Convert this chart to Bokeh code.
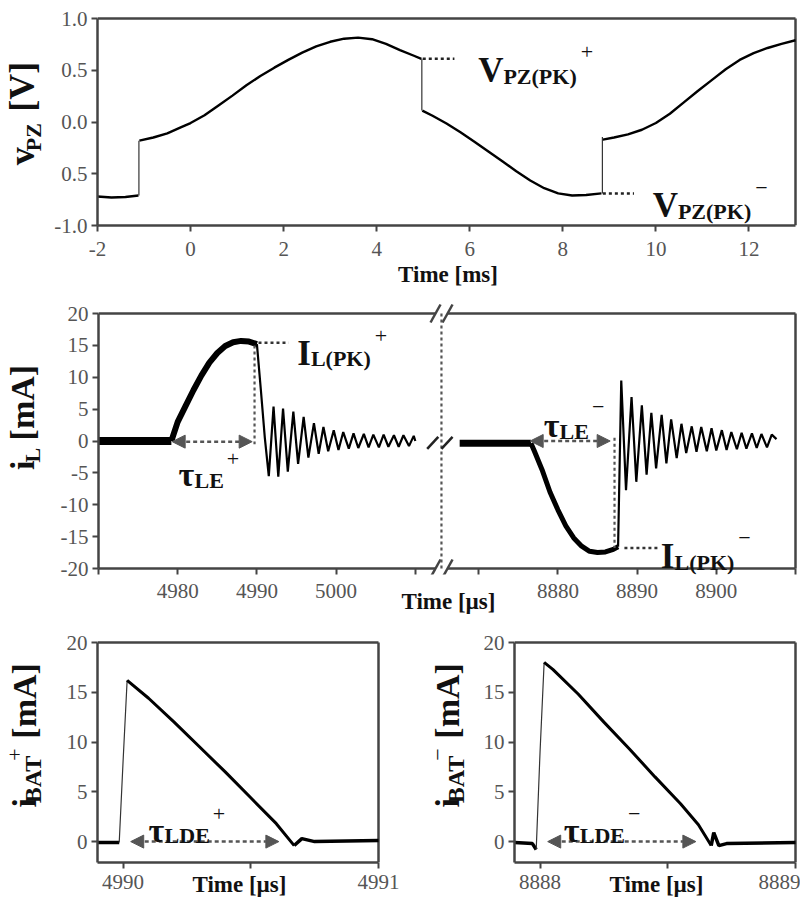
import math
from bokeh.plotting import figure
from bokeh.models import Range1d, FixedTicker, Label, Arrow, NormalHead
from bokeh.layouts import column, row
from bokeh.embed import file_html
from bokeh.resources import INLINE

FONT = "Liberation Serif"
FRAME = "#444444"
TICK_TXT = "#555555"
INK = "#111111"

# ---------------- data ----------------
# Panel 1: piezo voltage v_PZ [V] vs time [ms]
vpz_a_t = [-2.0, -1.7, -1.4, -1.12]
vpz_a_v = [-0.72, -0.73, -0.725, -0.71]
vpz_b_t = [-1.10, -0.8, -0.5, -0.2, 0.0, 0.3, 0.6, 0.9, 1.2, 1.5, 1.8, 2.1, 2.4, 2.7, 3.0, 3.3, 3.6, 3.9, 4.2, 4.5, 4.8, 4.96]
vpz_b_v = [-0.18, -0.15, -0.11, -0.05, -0.01, 0.065, 0.16, 0.255, 0.355, 0.445, 0.525, 0.60, 0.67, 0.73, 0.775, 0.805, 0.815, 0.80, 0.755, 0.695, 0.64, 0.61]
vpz_c_t = [4.98, 5.2, 5.5, 5.8, 6.1, 6.4, 6.7, 7.0, 7.3, 7.6, 7.9, 8.2, 8.5, 8.83]
vpz_c_v = [0.11, 0.06, -0.015, -0.10, -0.19, -0.285, -0.38, -0.475, -0.565, -0.64, -0.69, -0.71, -0.705, -0.69]
vpz_d_t = [8.86, 9.1, 9.4, 9.7, 10.0, 10.3, 10.6, 10.9, 11.2, 11.5, 11.8, 12.1, 12.4, 12.7, 13.0]
vpz_d_v = [-0.17, -0.15, -0.12, -0.075, -0.01, 0.08, 0.19, 0.30, 0.405, 0.51, 0.60, 0.665, 0.715, 0.755, 0.79]
vpz_jump_t = [-1.11, 4.97, 8.85]
vpz_jump_from = [-0.71, 0.61, -0.69]
vpz_jump_to = [-0.18, 0.11, -0.145]
vpz_xticks = [-2, 0, 2, 4, 6, 8, 10, 12]
vpz_yticks = [-1.0, -0.5, 0.0, 0.5, 1.0]
vpz_ylabels = ["-1.0", "0.5", "0.0", "0.5", "1.0"]

# Panel 2: inductor current i_L [mA] vs time [us], two time windows
il_a_base_t = [4970.0, 4979.2]
il_a_base_v = [0.0, 0.0]
il_a_rise_t = [4979.2, 4980, 4981, 4982, 4983, 4984, 4985, 4986, 4987, 4988, 4989, 4990.0]
il_a_rise_v = [0.0, 3.0, 5.5, 8.0, 10.3, 12.3, 13.8, 14.9, 15.5, 15.7, 15.6, 15.2]
il_a_ring_t = [4990.0, 4990.5, 4991.0, 4991.5, 4992.1, 4992.7, 4993.3, 4993.9, 4994.6, 4995.2,
               4995.9, 4996.5, 4997.2, 4997.8, 4998.4, 4999.0, 4999.7, 5000.3, 5000.9, 5001.6,
               5002.2, 5002.8, 5003.5, 5004.1, 5004.7, 5005.4, 5006.0, 5006.6, 5007.3, 5007.9,
               5008.5, 5009.2, 5009.8, 5010.0]
il_a_ring_v = [15.2, 8.0, 0.5, -5.5, 5.4, -5.6, 5.1, -4.8, 4.6, -3.6,
               3.8, -2.6, 2.8, -2.0, 2.2, -1.6, 1.7, -1.4, 1.4, -1.2,
               1.2, -1.1, 1.1, -1.0, 1.0, -1.0, 1.0, -0.9, 0.9, -0.9,
               0.9, -0.8, 0.8, 0.0]
il_b_base_t = [8867.6, 8876.6]
il_b_base_v = [-0.35, -0.35]
il_b_fall_t = [8876.6, 8877, 8878, 8879, 8880, 8881, 8882, 8883, 8884, 8885, 8886, 8887, 8887.6]
il_b_fall_v = [-0.35, -1.5, -4.5, -8.0, -10.8, -13.3, -15.2, -16.5, -17.3, -17.5, -17.4, -17.0, -16.6]
il_b_ring_t = [8887.6, 8888.0, 8888.6, 8889.3, 8889.9, 8890.6, 8891.2, 8891.8, 8892.4, 8893.1,
               8893.7, 8894.3, 8895.0, 8895.6, 8896.2, 8896.9, 8897.5, 8898.1, 8898.8, 8899.4,
               8900.0, 8900.7, 8901.3, 8901.9, 8902.6, 8903.2, 8903.8, 8904.5, 8905.1, 8905.7,
               8906.4, 8907.0, 8907.6]
il_b_ring_v = [-16.6, 9.5, -7.7, 6.9, -6.4, 5.6, -5.3, 4.4, -4.3, 4.1,
               -3.5, 3.4, -2.7, 2.7, -1.9, 2.3, -1.7, 2.2, -1.6, 2.0,
               -1.5, 1.7, -1.4, 1.4, -1.3, 1.3, -1.2, 1.2, -1.1, 1.1,
               -1.0, 1.0, 0.3]
il_left_ticks = [4970, 4980, 4990, 5000, 5010]
il_left_labels = ["", "4980", "4990", "5000", ""]
il_right_ticks = [8870, 8880, 8890, 8900, 8910]
il_right_labels = ["", "8880", "8890", "8900", ""]
il_yticks = [-20, -15, -10, -5, 0, 5, 10, 15, 20]
il_ylabels = ["-20", "-15", "-10", "-5", "0", "5", "10", "15", "20"]

# Panel 3: battery current i_BAT+ [mA]
ibp_base1_t = [4989.90, 4989.985]
ibp_base1_v = [-0.1, -0.1]
ibp_rise_t = [4989.985, 4990.0, 4990.016]
ibp_rise_v = [-0.1, 8.0, 16.2]
ibp_fall_t = [4990.016, 4990.10, 4990.20, 4990.30, 4990.40, 4990.50, 4990.60, 4990.67]
ibp_fall_v = [16.2, 14.4, 12.0, 9.5, 7.0, 4.4, 1.8, -0.4]
ibp_base2_t = [4990.67, 4990.70, 4990.75, 4991.0]
ibp_base2_v = [-0.4, 0.3, 0.0, 0.1]
# Panel 4: battery current i_BAT- [mA]
ibm_base1_t = [8887.90, 8887.97, 8887.985]
ibm_base1_v = [-0.1, -0.2, -0.8]
ibm_rise_t = [8887.985, 8888.0, 8888.016]
ibm_rise_v = [-0.8, 9.0, 18.0]
ibm_fall_t = [8888.016, 8888.05, 8888.15, 8888.25, 8888.35, 8888.45, 8888.55, 8888.62, 8888.67]
ibm_fall_v = [18.0, 17.3, 14.8, 12.0, 9.3, 6.5, 3.8, 1.7, -0.4]
ibm_base2_t = [8888.67, 8888.68, 8888.70, 8888.73, 8889.0]
ibm_base2_v = [-0.4, 0.9, -0.4, -0.2, -0.1]
ib_yticks = [0, 5, 10, 15, 20]
ib_ylabels = ["0", "5", "10", "15", "20"]

OFF = 3852.0  # compression of the broken middle time axis

# ---------------- helpers ----------------
WB = {' ': .25, '(': .333, ')': .333, '[': .333, ']': .333, '+': .570, '−': .570,
      'A': .722, 'B': .667, 'D': .722, 'E': .667, 'I': .389, 'K': .778, 'L': .667,
      'P': .611, 'T': .667, 'V': .722, 'Z': .667, 'i': .278, 'm': .833, 'v': .5,
      's': .389, 'τ': .47}
WR = {'+': .564, '−': .564}
MID = 0.3375  # (ascent - descent) / 2 of Liberation Serif, in em


def tw(txt, size, bold):
    tab = WB if bold else {**WB, **WR}
    return sum(tab.get(c, 0.5) for c in txt) * size


def rich_len(pieces):
    return sum(tw(pc[0], pc[1], pc[3]) + (pc[4] if len(pc) > 4 else 0) for pc in pieces)


def mk_label(x, y, txt, size, bold, color=INK, **kw):
    return Label(x=x, y=y, text=txt, text_font=FONT, text_font_size=f"{size}px",
                 text_font_style="bold" if bold else "normal", text_color=color, **kw)


def rich(p, x, y, pieces, color=INK):
    adv = 0.0
    for pc in pieces:
        txt, size, shift, bold = pc[:4]
        adv += pc[4] if len(pc) > 4 else 0.0
        p.add_layout(mk_label(x, y, txt, size, bold, color, text_align="left",
                              text_baseline="alphabetic", x_offset=adv, y_offset=shift))
        adv += tw(txt, size, bold)


def rich_rot(p, xb, yc, pieces, color=INK):
    """vertical text reading upwards; xb = baseline x, yc = centre along text (local px)"""
    adv = yc - rich_len(pieces) / 2
    for pc in pieces:
        txt, size, shift, bold = pc[:4]
        adv += pc[4] if len(pc) > 4 else 0.0
        w = tw(txt, size, bold)
        xm = xb - shift - MID * size
        p.add_layout(mk_label(xm, adv + w / 2, txt, size, bold, color, text_align="center",
                              text_baseline="middle", angle=math.pi / 2))
        adv += w


def darrow(p, x0, x1, y):
    p.add_layout(Arrow(start=NormalHead(size=13, fill_color="#555555", line_color="#555555", line_width=1),
                       end=NormalHead(size=13, fill_color="#555555", line_color="#555555", line_width=1),
                       x_start=x0, y_start=y, x_end=x1, y_end=y,
                       line_color="#555555", line_width=2.5, line_dash="4 3"))


def padded(v0, v1, px, lo, hi):
    s = px / (v1 - v0)
    return (v0 - lo / s, v1 + hi / s)


def make_fig(w, h, xr, yr, bl, br, bt, bb):
    p = figure(width=w, height=h, x_range=Range1d(*xr), y_range=Range1d(*yr),
               output_backend="svg", toolbar_location=None,
               min_border_left=bl, min_border_right=br, min_border_top=bt, min_border_bottom=bb)
    p.xgrid.visible = False
    p.ygrid.visible = False
    p.outline_line_color = None
    p.background_fill_color = "white"
    p.border_fill_color = "white"
    for ax in p.axis:
        ax.axis_line_color = FRAME
        ax.axis_line_width = 2.5
        ax.major_tick_line_color = FRAME
        ax.major_tick_line_width = 2
        ax.major_tick_in = 0
        ax.major_tick_out = 6
        ax.minor_tick_line_color = None
        ax.major_label_text_font = FONT
        ax.major_label_text_font_size = "21px"
        ax.major_label_text_color = TICK_TXT
    p.yaxis.major_label_standoff = 4
    return p


def title_fig(w, h):
    p = figure(width=w, height=h, x_range=Range1d(0, w), y_range=Range1d(0, h),
               output_backend="svg", toolbar_location=None,
               x_axis_location=None, y_axis_location=None,
               min_border_left=0, min_border_right=0, min_border_top=0, min_border_bottom=0)
    p.grid.visible = False
    p.outline_line_color = None
    p.background_fill_color = "white"
    p.border_fill_color = "white"
    return p


def set_ticks(ax, ticks, labels):
    ax.ticker = FixedTicker(ticks=ticks)
    ax.major_label_overrides = {t: l for t, l in zip(ticks, labels)}


def xtitle(p, text, standoff):
    p.xaxis.axis_label = text
    p.xaxis.axis_label_text_font = FONT
    p.xaxis.axis_label_text_font_style = "bold"
    p.xaxis.axis_label_text_font_size = "23px"
    p.xaxis.axis_label_text_color = INK
    p.xaxis.axis_label_standoff = standoff


def frame_line(p, xs, ys):
    p.line(xs, ys, line_color=FRAME, line_width=2.5)


# ---------------- panel 1 ----------------
X1 = padded(-2, 13, 698, 0, 3)
Y1 = padded(-1, 1, 207, 0, 3)
p1 = make_fig(752, 296, X1, Y1, 49, 2, 15, 71)
set_ticks(p1.xaxis[0], vpz_xticks, [str(v) for v in vpz_xticks])
set_ticks(p1.yaxis[0], vpz_yticks, vpz_ylabels)
p1.xaxis.bounds = (-2, 13)
p1.yaxis.bounds = (-1, 1)
p1.xaxis.major_label_standoff = 10
frame_line(p1, [-2, 13], [1, 1])
frame_line(p1, [13, 13], [-1, 1])
for tt, vv in [(vpz_a_t, vpz_a_v), (vpz_b_t, vpz_b_v), (vpz_c_t, vpz_c_v), (vpz_d_t, vpz_d_v)]:
    p1.line(tt, vv, line_color="black", line_width=2.4)
p1.segment(x0=vpz_jump_t, y0=vpz_jump_from, x1=vpz_jump_t, y1=vpz_jump_to,
           line_color="#333333", line_width=1.2)
p1.line([4.99, 5.67], [0.61, 0.61], line_color="#222222", line_width=2.5, line_dash="3 3")
p1.line([8.86, 9.53], [-0.69, -0.69], line_color="#222222", line_width=2.5, line_dash="3 3")
xtitle(p1, "Time [ms]", 3)
rich(p1, 6.18, 0.498, [("V", 35, 0, True), ("PZ(PK)", 22, -6, True), ("+", 22, 18, False, 4)])
rich(p1, 9.93, -0.807, [("V", 35, 0, True), ("PZ(PK)", 22, -6, True), ("−", 22, 18, False, 4)])
t1 = title_fig(48, 296)
rich_rot(t1, 34, 296 - 141.5, [("v", 36, 0, True), ("PZ", 22, -6, True, 4), ("[V]", 36, 0, True, 32)])

# ---------------- panel 2 ----------------
X2 = padded(4970, 5058, 697, 0, 3)
Y2 = padded(-20, 20, 255, 6, 10)
p2 = make_fig(752, 325, X2, Y2, 50, 2, 7, 47)
set_ticks(p2.xaxis[0], il_left_ticks + [t - OFF for t in il_right_ticks], il_left_labels + il_right_labels)
set_ticks(p2.yaxis[0], il_yticks, il_ylabels)
p2.yaxis.bounds = (-20, 20)
p2.xaxis.axis_line_color = None
p2.xaxis.major_tick_in = 6
p2.xaxis.major_tick_out = 0
p2.xaxis.major_label_standoff = 9
xtitle(p2, "Time [µs]", -12)
# frame with break
frame_line(p2, [4970, 5012.55], [20, 20])
frame_line(p2, [5014.07, 5058], [20, 20])
frame_line(p2, [4970, 5012.55], [-20, -20])
frame_line(p2, [5014.07, 5058], [-20, -20])
frame_line(p2, [5058, 5058], [-20, 20])
brk_x = [5012.55, 5014.07]
p2.segment(x0=[x - 0.63 for x in brk_x] * 2, y0=[18.59, 18.59, -21.41, -21.41],
           x1=[x + 0.63 for x in brk_x] * 2, y1=[21.41, 21.41, -18.59, -18.59],
           line_color=FRAME, line_width=2.5)
p2.line([5013.3, 5013.3], [20, -20], line_color="#555555", line_width=2.2, line_dash="3 3")
# traces
p2.line(il_a_base_t, il_a_base_v, line_color="black", line_width=8)
p2.line(il_a_rise_t, il_a_rise_v, line_color="black", line_width=6)
p2.line(il_a_ring_t, il_a_ring_v, line_color="black", line_width=2.2)
p2.line([t - OFF for t in il_b_base_t], il_b_base_v, line_color="black", line_width=7)
p2.line([t - OFF for t in il_b_fall_t], il_b_fall_v, line_color="black", line_width=5)
p2.line([t - OFF for t in il_b_ring_t], il_b_ring_v, line_color="black", line_width=2.2)
p2.segment(x0=[5011.5, 5013.3], y0=[-1.25, -1.25], x1=[5012.9, 5014.7], y1=[0.65, 0.65],
           line_color="#222222", line_width=2.5)
# leaders and guide lines
p2.line([4990.2, 4994.0], [15.4, 15.4], line_color="#333333", line_width=2.5, line_dash="3 3")
p2.line([8888.4 - OFF, 8892.7 - OFF], [-16.8, -16.8], line_color="#333333", line_width=2.5, line_dash="3 3")
p2.line([4989.7, 4989.7], [15.0, -0.5], line_color="#555555", line_width=2.2, line_dash="3 3")
p2.line([8887.15 - OFF, 8887.15 - OFF], [0.5, -16.8], line_color="#555555", line_width=2.2, line_dash="3 3")
darrow(p2, 4979.3, 4989.4, -0.1)
darrow(p2, 8876.5 - OFF, 8886.6 - OFF, 0.0)
rich(p2, 4995.1, 13.7, [("I", 35, 0, True), ("L(PK)", 22, -5, True), ("+", 22, 18, False, 4)])
rich(p2, 8893.0 - OFF, -18.1, [("I", 35, 0, True), ("L(PK)", 22, -6, True), ("−", 22, 18, False, 4)])
rich(p2, 4980.1, -5.3, [("τ", 34, 0, True), ("LE", 22, -6, True), ("+", 22, 16, False, 3)])
rich(p2, 8878.2 - OFF, 2.5, [("τ", 34, 0, True), ("LE", 22, -6, True), ("−", 22, 18, False, 3)])
t2 = title_fig(48, 325)
rich_rot(t2, 33, 621 - 436, [("i", 34, 0, True), ("L", 22, -6, True), ("[mA]", 34, 0, True, 18)])

# ---------------- panels 3 and 4 ----------------
Y3 = padded(-2.1, 20, 220, 0, 3)
p3 = make_fig(352, 283, padded(4989.9, 4991.0, 281, 0, 3), Y3, 49, 19, 18, 42)
p4 = make_fig(330, 283, padded(8887.9, 8889.0, 281, 0, 3), Y3, 44, 2, 18, 42)
set_ticks(p3.xaxis[0], [4990, 4990.5, 4991], ["4990", "", "4991"])
set_ticks(p4.xaxis[0], [8888, 8888.5, 8889], ["8888", "", "8889"])
p3.xaxis.bounds = (4989.9, 4991.0)
p4.xaxis.bounds = (8887.9, 8889.0)
for p, xa, xb in ((p3, 4989.9, 4991.0), (p4, 8887.9, 8889.0)):
    set_ticks(p.yaxis[0], ib_yticks, ib_ylabels)
    p.yaxis.bounds = (-2.1, 20)
    p.xaxis.major_label_standoff = 6
    xtitle(p, "Time [µs]", -20)
    frame_line(p, [xa, xb], [20, 20])
    frame_line(p, [xb, xb], [-2.1, 20])
p3.line(ibp_base1_t, ibp_base1_v, line_color="black", line_width=3.5)
p3.line(ibp_rise_t, ibp_rise_v, line_color="#333333", line_width=1.2)
p3.line(ibp_fall_t, ibp_fall_v, line_color="black", line_width=3)
p3.line(ibp_base2_t, ibp_base2_v, line_color="black", line_width=3.5)
p4.line(ibm_base1_t, ibm_base1_v, line_color="black", line_width=3.5)
p4.line(ibm_rise_t, ibm_rise_v, line_color="#333333", line_width=1.2)
p4.line(ibm_fall_t, ibm_fall_v, line_color="black", line_width=3)
p4.line(ibm_base2_t, ibm_base2_v, line_color="black", line_width=3.5)
darrow(p3, 4990.03, 4990.61, 0.0)
darrow(p4, 8888.03, 8888.61, 0.0)
rich(p3, 4990.10, 1.1, [("τ", 34, 0, True), ("LDE", 22, -5, True), ("+", 22, 17, False, 3)])
rich(p4, 8888.093, 1.1, [("τ", 34, 0, True), ("LDE", 22, -5, True), ("−", 22, 17, False, 3)])
t3 = title_fig(48, 283)
t4 = title_fig(70, 283)
for t, sign, bx in ((t3, "+", 35), (t4, "−", 58)):
    rich_rot(t, bx, 904 - 747, [("i", 34, 0, True), ("BAT", 24, -6, True), (sign, 22, 13, False, 1),
                                ("[mA]", 34, 0, True, 24)])

layout = column(row(t1, p1), row(t2, p2), row(t3, p3, t4, p4))
open("out.html", "w").write(file_html(layout, INLINE))
